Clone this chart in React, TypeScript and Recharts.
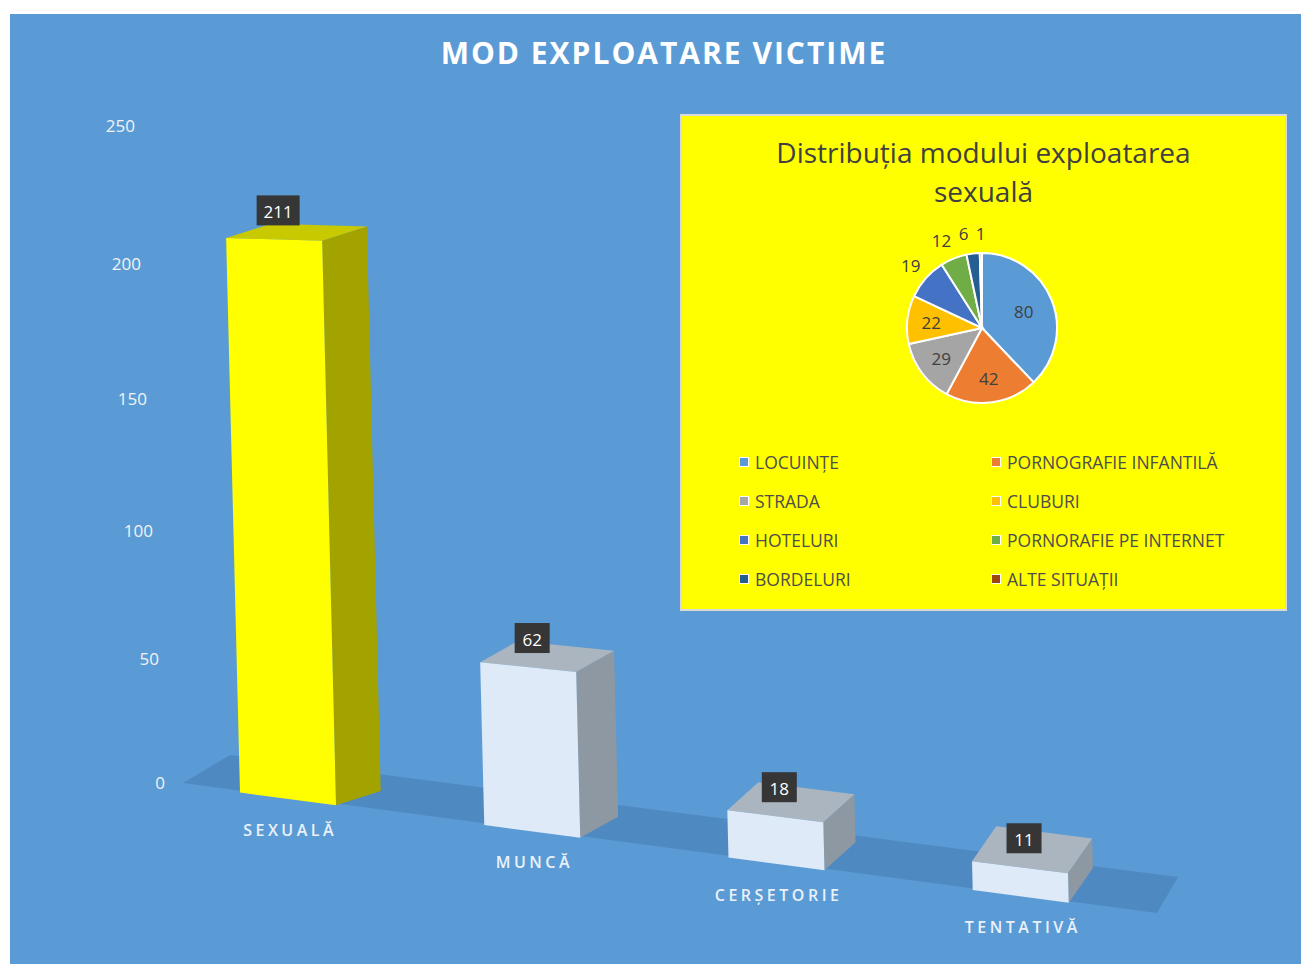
import React from "react";
import { BarChart, Bar, XAxis, YAxis, LabelList, PieChart, Pie, Cell, Legend } from "recharts";

// main chart data
const categories = ["SEXUALĂ", "MUNCĂ", "CERȘETORIE", "TENTATIVĂ"];
const victims = [211, 62, 18, 11];
const yTicks = [0, 50, 100, 150, 200, 250];

// inset: sexual exploitation by place
const places = [
  "LOCUINȚE",
  "PORNOGRAFIE INFANTILĂ",
  "STRADA",
  "CLUBURI",
  "HOTELURI",
  "PORNORAFIE PE INTERNET",
  "BORDELURI",
  "ALTE SITUAȚII",
];
const placeCounts = [80, 42, 29, 22, 19, 12, 6, 1];
const placeColors = ["#5B9BD5", "#ED7D31", "#A5A5A5", "#FFC000", "#4472C4", "#70AD47", "#255E91", "#9E480E"];

const barData = categories.map((name, i) => ({ name, value: victims[i] }));
const pieData = places.map((name, i) => ({ name, value: placeCounts[i] }));

const FONT = "'Open Sans', 'DejaVu Sans', sans-serif";
const BG = "#5B9BD5";
const W = 1299;
const H = 950;

// fake perspective floor (chart coords)
const FLOOR_X0 = 173;
const FLOOR_Y0 = 771;
const FLOOR_SLOPE = 0.133;
const baseY = (x: number) => FLOOR_Y0 + FLOOR_SLOPE * (x - FLOOR_X0);
const depth = (x: number) => ({ dx: 45 - 0.028 * (x - 220), dy: -(14 + 0.028 * (x - 220)) });

const FACES = {
  hi: { front: "#FFFF00", side: "#A3A300", top: "#C9C900" },
  lo: { front: "#DEEAF8", side: "#8D98A2", top: "#AAB5BF" },
};

function geom(x: number, w: number, h: number) {
  const lean = 0.025 * h;
  const topSlope = FLOOR_SLOPE * (1 - h / 700);
  const b = baseY(x);
  const bl = [x, b];
  const br = [x + w, baseY(x + w)];
  const tl = [x - lean, b - h];
  const tr = [x + w - lean, b - h + w * topSlope];
  const d = depth(x);
  return { bl, br, tl, tr, d };
}

const pts = (arr: number[][]) => arr.map((p) => p.join(",")).join(" ");

function Box3D(props: any) {
  const { x, width, height, payload } = props;
  if (width == null || height == null) return null;
  const { bl, br, tl, tr, d } = geom(x, width, height);
  const c = payload.name === "SEXUALĂ" ? FACES.hi : FACES.lo;
  const mv = (p: number[]) => [p[0] + d.dx, p[1] + d.dy];
  return (
    <g>
      <polygon points={pts([tr, mv(tr), mv(br), br])} fill={c.side} />
      <polygon points={pts([tl, mv(tl), mv(tr), tr])} fill={c.top} />
      <polygon points={pts([tl, tr, br, bl])} fill={c.front} />
    </g>
  );
}

function ValueTag(props: any) {
  const { x, width, height, value } = props;
  if (width == null || height == null) return null;
  const { tl, tr } = geom(x, width, height);
  const cx = (tl[0] + tr[0]) / 2 + 4;
  const cy = (tl[1] + tr[1]) / 2 - 29;
  const bw = 19 + 8 * String(value).length;
  return (
    <g>
      <rect x={cx - bw / 2} y={cy - 15} width={bw} height={30} fill="#363636" />
      <text x={cx} y={cy + 1} textAnchor="middle" dominantBaseline="central" fill="#fff" fontSize={17} fontFamily={FONT}>
        {value}
      </text>
    </g>
  );
}

function CatTick(props: any) {
  const { x, payload } = props;
  return (
    <text x={x + 2} y={baseY(x) + 31} textAnchor="middle" dominantBaseline="central" fill="#EAF1FA" fontSize={16} fontWeight={600} letterSpacing={3.5} fontFamily={FONT}>
      {payload.value}
    </text>
  );
}

// tick labels sit on the back wall, so they drift with the perspective
function ValTick(props: any) {
  const { y, payload } = props;
  const v = payload.value;
  const right = 125 + (250 - v) * 0.12;
  const sag = 0.00074 * v * (250 - v);
  return (
    <text x={right} y={y + sag} textAnchor="end" dominantBaseline="central" fill="#F2F2F2" fontSize={17} fontFamily={FONT}>
      {v}
    </text>
  );
}

// outside labels of the thin slices near the top are pushed apart
const RAD = Math.PI / 180;
const total = placeCounts.reduce((a, b) => a + b, 0);
const midAngles = placeCounts.map((v, i) => {
  const before = placeCounts.slice(0, i).reduce((a, b) => a + b, 0);
  return 90 - (360 * (before + v / 2)) / total;
});
function labelOffsets(r: number) {
  const res = placeCounts.map((v, i) => {
    const d = v >= 20 ? r * (v > 50 ? 0.6 : 0.68) : r + 20;
    return { x: d * Math.cos(-midAngles[i] * RAD), y: d * Math.sin(-midAngles[i] * RAD) };
  });
  for (let i = placeCounts.length - 2; i >= 0; i--) {
    const a = res[i];
    const b = res[i + 1];
    if (placeCounts[i] >= 20 || Math.abs(a.y - b.y) > 14) continue;
    const gap = (String(placeCounts[i]).length + String(placeCounts[i + 1]).length) * 5 + 7;
    if (a.x > b.x - gap) a.x = b.x - gap;
  }
  return res;
}

function PieTag(props: any) {
  const { cx, cy, outerRadius, value, index } = props;
  const o = labelOffsets(outerRadius)[index];
  return (
    <text x={cx + o.x} y={cy + o.y} textAnchor="middle" dominantBaseline="central" fill="#404040" fontSize={17} fontFamily={FONT}>
      {value}
    </text>
  );
}

function PlaceLegend(props: any) {
  const items = [...(props.payload || [])].sort((a: any, b: any) => places.indexOf(a.value) - places.indexOf(b.value));
  return (
    <div style={{ display: "grid", gridTemplateColumns: "252px 252px", rowGap: 17, fontFamily: FONT }}>
      {items.map((it: any) => (
        <div key={it.value} style={{ display: "flex", alignItems: "center", height: 22, color: "#4D4D4D", fontSize: 17.5, whiteSpace: "nowrap" }}>
          <span style={{ width: 8, height: 8, background: it.color, border: "1.5px solid #fff", marginRight: 6, flex: "none" }} />
          {it.value}
        </div>
      ))}
    </div>
  );
}

export default function App() {
  return (
    <div style={{ position: "relative", width: 1301, height: 956 }}>
      <div style={{ position: "absolute", left: 2, top: 6, width: W, height: H, background: BG, overflow: "hidden" }}>
        <svg width={W} height={H} style={{ position: "absolute", left: 0, top: 0 }}>
          <polygon points="220,741 1168,863 1147,899 173,769" fill="#4F89C2" />
        </svg>
        <div style={{ position: "absolute", left: 0, top: 18, width: 1308, textAlign: "center", color: "#fff", fontFamily: FONT, fontWeight: 700, fontSize: 30, letterSpacing: 2 }}>
          MOD EXPLOATARE VICTIME
        </div>
        <div style={{ position: "relative" }}>
          <BarChart width={W} height={H} data={barData} margin={{ top: 111, right: 166, bottom: 152, left: 3 }}>
            <XAxis dataKey="name" axisLine={false} tickLine={false} tick={<CatTick />} height={30} interval={0} />
            <YAxis domain={[0, 250]} ticks={yTicks} axisLine={false} tickLine={false} tick={<ValTick />} width={153} />
            <Bar dataKey="value" barSize={96} shape={<Box3D />} isAnimationActive={false}>
              <LabelList dataKey="value" content={<ValueTag />} />
            </Bar>
          </BarChart>
        </div>
        <div style={{ position: "absolute", left: 670, top: 100, width: 603, height: 493, background: "#FFFF00", border: "2px solid #D9D9D9" }}>
          <div style={{ position: "absolute", left: 0, top: 17, width: 603, textAlign: "center", color: "#404040", fontFamily: FONT, fontSize: 28, lineHeight: "39px" }}>
            Distribuția modului exploatarea
            <br />
            sexuală
          </div>
          <PieChart width={603} height={493} margin={{ top: 0, right: 0, bottom: 0, left: 0 }}>
            <Pie
              data={pieData}
              dataKey="value"
              nameKey="name"
              cx={300}
              cy={212}
              outerRadius={75}
              startAngle={90}
              endAngle={-270}
              stroke="#fff"
              strokeWidth={2}
              label={<PieTag />}
              labelLine={false}
              isAnimationActive={false}
            >
              {pieData.map((e, i) => (
                <Cell key={e.name} fill={placeColors[i]} />
              ))}
            </Pie>
            <Legend content={<PlaceLegend />} wrapperStyle={{ position: "absolute", left: 57, top: 335, width: 520 }} />
          </PieChart>
        </div>
      </div>
    </div>
  );
}
